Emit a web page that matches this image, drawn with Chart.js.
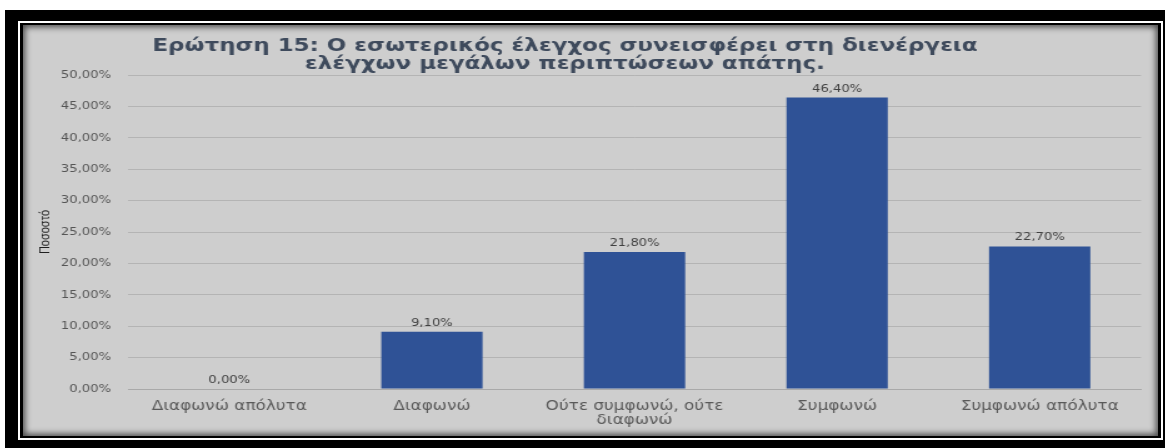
<!DOCTYPE html>
<html>
<head>
<meta charset="utf-8">
<script src="https://cdn.jsdelivr.net/npm/chart.js@4"></script>
<style>
  html, body { margin: 0; padding: 0; background: #fff; }
  body { width: 1165px; height: 448px; position: relative; overflow: hidden; }
  .frame { position: absolute; left: 5px; top: 10px; width: 1165px; height: 438px; background: #000; }
  .rule { position: absolute; left: 13px; top: 11px; width: 1145px; height: 419px; border: 2px solid #fff; box-sizing: border-box; }
  .panel {
    position: absolute; left: 23px; top: 25px; width: 1135px; height: 411px;
    background: #cecece;
    box-shadow: inset 0 0 6px 2px rgba(0, 0, 0, 0.65);
  }
  /* chart is drawn narrow and stretched wide, text included */
  .panel canvas { position: absolute; left: 0; top: 0; transform: scaleX(1.25); transform-origin: 0 0; }
</style>
</head>
<body>
<div class="frame"><div class="rule"></div></div>
<div class="panel"><canvas id="surveyChart" width="908" height="411"></canvas></div>

<script>
// ------ data ------
var answers = [
  'Διαφωνώ απόλυτα',
  'Διαφωνώ',
  ['Ούτε συμφωνώ, ούτε', 'διαφωνώ'],
  'Συμφωνώ',
  'Συμφωνώ απόλυτα'
];
var percentages = [0, 9.1, 21.8, 46.4, 22.7];
var yMin = 0;
var yMax = 50;
var yStep = 5;
var titleLines = [
  'Ερώτηση 15: Ο εσωτερικός έλεγχος συνεισφέρει στη διενέργεια',
  'ελέγχων μεγάλων περιπτώσεων απάτης.'
];
var yTitle = 'Ποσοστό';

// greek style percent: 46,40%
function pct(v) {
  return v.toFixed(2).replace('.', ',') + '%';
}

// two line heading on top
var heading = {
  id: 'heading',
  afterDraw: function (chart) {
    var ctx = chart.ctx;
    var sx = 1.05;
    ctx.save();
    ctx.scale(sx, 1);
    ctx.font = 'bold 17.5px "DejaVu Sans"';
    ctx.fillStyle = '#3e4a5c';
    ctx.textAlign = 'center';
    ctx.textBaseline = 'alphabetic';
    var cx = chart.width * 0.4775 / sx;
    titleLines.forEach(function (line, i) {
      ctx.fillText(line, cx, 26 + i * 17.5);
    });
    ctx.restore();
  }
};

// value above each bar
var valueLabels = {
  id: 'valueLabels',
  afterDatasetsDraw: function (chart) {
    var ctx = chart.ctx;
    var meta = chart.getDatasetMeta(0);
    ctx.save();
    ctx.font = '10.5px "DejaVu Sans"';
    ctx.fillStyle = '#404040';
    ctx.textAlign = 'center';
    ctx.textBaseline = 'alphabetic';
    meta.data.forEach(function (bar, i) {
      ctx.fillText(pct(percentages[i]), bar.x, bar.y - 6);
    });
    ctx.restore();
  }
};

var surveyChart = new Chart('surveyChart', {
  type: 'bar',
  data: {
    labels: answers,
    datasets: [{
      data: percentages,
      backgroundColor: '#2f5296',
      borderWidth: 0,
      barPercentage: 0.5,
      categoryPercentage: 1.0
    }]
  },
  options: {
    responsive: false,
    animation: false,
    layout: { padding: { top: 50, right: 13.6, left: 0, bottom: 0 } },
    plugins: {
      legend: { display: false },
      title: { display: false },
      tooltip: { enabled: false }
    },
    scales: {
      x: {
        grid: { display: false },
        border: { color: '#a9a9a9' },
        ticks: {
          color: '#595959',
          font: { family: 'DejaVu Sans', size: 13.5, lineHeight: 1.0 },
          padding: 3,
          maxRotation: 0,
          autoSkip: false
        },
        afterFit: function (scale) { scale.height = 47; }
      },
      y: {
        min: yMin,
        max: yMax,
        grid: { color: '#b4b4b4', drawTicks: false },
        border: { display: false },
        ticks: {
          stepSize: yStep,
          color: '#555555',
          font: { family: 'DejaVu Sans', size: 10.5 },
          padding: 13.6,
          callback: function (v) { return pct(v); }
        },
        title: {
          display: true,
          text: yTitle,
          color: '#1f1f1f',
          font: { family: '"Liberation Sans", Arial, sans-serif', size: 11 },
          padding: { top: 11, bottom: 0 }
        },
        afterFit: function (scale) { scale.width = 84; }
      }
    }
  },
  plugins: [valueLabels, heading]
});
</script>
</body>
</html>
